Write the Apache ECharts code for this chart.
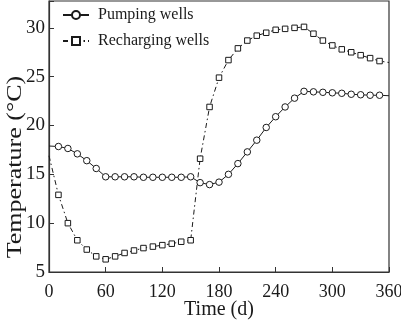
<!DOCTYPE html>
<html>
<head>
<meta charset="utf-8">
<script src="https://cdn.jsdelivr.net/npm/echarts@6/dist/echarts.min.js"></script>
<style>
  html, body { margin: 0; padding: 0; background: #fff; }
  #chart { width: 401px; height: 322px; }
</style>
</head>
<body>
<div id="chart"></div>
<script>
// time in days
const days = [0, 10, 20, 30, 40, 50, 60, 70, 80, 90, 100, 110, 120, 130, 140, 150, 160, 170, 180,
              190, 200, 210, 220, 230, 240, 250, 260, 270, 280, 290, 300, 310, 320, 330, 340, 350, 360];

const pumpingWells = [17.9, 17.85, 17.65, 17.1, 16.4, 15.6, 14.75, 14.75, 14.75, 14.75, 14.7, 14.7, 14.7,
                      14.7, 14.7, 14.75, 14.15, 13.95, 14.2, 15.0, 16.1, 17.3, 18.5, 19.8, 20.9, 21.9,
                      22.8, 23.5, 23.45, 23.4, 23.35, 23.3, 23.2, 23.15, 23.1, 23.1, 23.05];

const rechargingWells = [16.9, 12.9, 10.0, 8.25, 7.3, 6.6, 6.3, 6.6, 6.95, 7.2, 7.45, 7.6, 7.75, 7.9,
                         8.1, 8.25, 16.6, 21.9, 24.9, 26.7, 27.9, 28.7, 29.2, 29.5, 29.8, 29.9, 30.0,
                         30.1, 29.4, 28.7, 28.2, 27.8, 27.5, 27.2, 26.9, 26.6, 26.45];

const seriesNames = ['Pumping wells', 'Recharging wells'];
const yTitle = 'Temperature (°C)';

const chart = echarts.init(document.getElementById('chart'));
const FONT = '"Liberation Serif", "DejaVu Serif", serif';
const INK = '#1a1a1a';

// end points sit on the frame, no marker drawn there
function toPoints(vals) {
    return vals.map((v, i) => {
        const item = { value: [days[i], v] };
        if (i === 0 || i === vals.length - 1) item.symbol = 'none';
        return item;
    });
}

chart.setOption({
    animation: false,
    grid: {
        left: 49, right: 12, top: 1, bottom: 50,
        containLabel: false, outerBoundsMode: 'none',
        show: true, borderColor: '#333', borderWidth: 1.2
    },
    legend: {
        orient: 'vertical',
        left: 62, top: 5, padding: 0,
        itemWidth: 26, itemHeight: 10, itemGap: 6,
        textStyle: { fontFamily: FONT, fontSize: 16, color: INK, lineHeight: 20, padding: [0, 0, 0, 4] },
        data: seriesNames
    },
    // rotated title, stretched along its length like the source figure
    graphic: [{
        type: 'text',
        x: 16, y: 167,
        rotation: Math.PI / 2,
        scaleX: 1.3,
        style: {
            text: yTitle,
            font: '20px ' + FONT,
            fill: INK,
            align: 'center',
            verticalAlign: 'middle'
        }
    }],
    xAxis: {
        type: 'value',
        min: 0, max: 360, interval: 60,
        name: 'Time (d)',
        nameLocation: 'middle', nameGap: 28, nameMoveOverlap: false,
        nameTextStyle: { fontFamily: FONT, fontSize: 20, color: INK },
        axisLine: { show: true, lineStyle: { color: '#333', width: 1.2 } },
        axisTick: { show: true, inside: true, length: 5, lineStyle: { color: '#333' } },
        axisLabel: { fontFamily: FONT, fontSize: 18, color: INK, margin: 11 },
        splitLine: { show: false }
    },
    yAxis: {
        type: 'value',
        min: 5, max: 32.75, interval: 5,
        axisLine: { show: true, lineStyle: { color: '#333', width: 1.2 } },
        axisTick: { show: true, inside: true, length: 5, lineStyle: { color: '#333' } },
        axisLabel: {
            fontFamily: FONT, fontSize: 19, color: INK, margin: 4,
            formatter: v => (v % 5 === 0 ? String(v) : '')
        },
        splitLine: { show: false }
    },
    series: [
        {
            name: seriesNames[0],
            type: 'line',
            data: toPoints(pumpingWells),
            symbol: 'circle', symbolSize: 6.5,
            lineStyle: { color: INK, width: 1 },
            itemStyle: { color: '#fff', borderColor: INK, borderWidth: 1 }
        },
        {
            name: seriesNames[1],
            type: 'line',
            data: toPoints(rechargingWells),
            symbol: 'rect', symbolSize: 5.5,
            lineStyle: { color: INK, width: 1, type: [5, 3, 1.5, 3] },
            itemStyle: { color: '#fff', borderColor: INK, borderWidth: 1 }
        }
    ]
});
</script>
</body>
</html>
